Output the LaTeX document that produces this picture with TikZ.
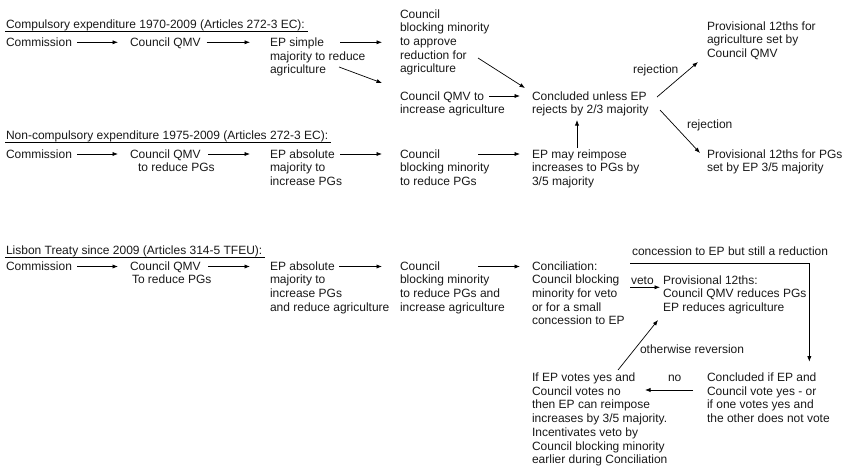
\documentclass[tikz,border=0pt]{standalone}
\usepackage{fontspec}
\setmainfont{Liberation Sans}
\usetikzlibrary{arrows.meta}
\newcommand\mlines[1]{\vtop{\halign{##\hfil\cr#1\crcr}}}
\begin{document}
\begin{tikzpicture}[x=1pt,y=-1pt,
  txt/.style={anchor=base west,inner sep=0pt,outer sep=0pt,
              font=\fontsize{12}{13.7}\selectfont,text=black!90},
  arr/.style={-{Latex[length=5.5pt,width=4.2pt]},line width=0.7pt},
  uline/.style={line width=0.6pt}]
\useasboundingbox (0,0) rectangle (846,474);

% ---------------- Row 1 ----------------
\node[txt] (h1) at (6,28) {Compulsory expenditure 1970-2009 (Articles 272-3 EC):};
\draw[uline] ([shift={(-1,3.5)}]h1.base west) -- ([shift={(3,3.5)}]h1.base east);
\node[txt] (c1a) at (6,46.5) {Commission};
\node[txt] (c1b) at (130,46.5) {Council QMV};
\node[txt] (c1c) at (270,46.5) {\mlines{EP simple\cr majority to reduce\cr agriculture}};
\node[txt] (c1d) at (400,18) {\mlines{Council\cr blocking minority\cr to approve\cr reduction for\cr agriculture}};
\node[txt] (c1e) at (400,100) {\mlines{Council QMV to\cr increase agriculture}};
\node[txt] (c1f) at (532,100) {\mlines{Concluded unless EP\cr rejects by 2/3 majority}};
\node[txt] (c1g) at (707,30) {\mlines{Provisional 12ths for\cr agriculture set by\cr Council QMV}};
\node[txt] (r1) at (633,73) {rejection};

\draw[arr] ([shift={(5,-4.2)}]c1a.base east) -- ([shift={(-12,-4.2)}]c1b.base west);
\draw[arr] ([shift={(6,-4.2)}]c1b.base east) -- ([shift={(-20,-4.2)}]c1c.base west);
\draw[arr] ([shift={(70,-4.2)}]c1c.base west) -- ([shift={(-18,24.3)}]c1d.base west);
\draw[arr] ([shift={(69,20.5)}]c1c.base west) -- ([shift={(-18,-17)}]c1e.base west);
\draw[arr] ([shift={(78,40)}]c1d.base west) -- ([shift={(-7,-12)}]c1f.base west);
\draw[arr] ([shift={(89,-4)}]c1e.base west) -- ([shift={(-12,-4)}]c1f.base west);
\draw[arr] ([shift={(125,-3)}]c1f.base west) -- ([shift={(-9,32)}]c1g.base west);

% ---------------- Row 2 ----------------
\node[txt] (h2) at (6,139) {Non-compulsory expenditure 1975-2009 (Articles 272-3 EC):};
\draw[uline] ([shift={(-1,3.5)}]h2.base west) -- ([shift={(3,3.5)}]h2.base east);
\node[txt] (c2a) at (6,158) {Commission};
\node[txt] (c2b) at (130,158) {\mlines{Council QMV\cr \hspace*{8pt}to reduce PGs}};
\node[txt] (c2c) at (270,158) {\mlines{EP absolute\cr majority to\cr increase PGs}};
\node[txt] (c2d) at (400,158) {\mlines{Council\cr blocking minority\cr to reduce PGs}};
\node[txt] (c2e) at (532,158) {\mlines{EP may reimpose\cr increases to PGs by\cr 3/5 majority}};
\node[txt] (c2g) at (707,158) {\mlines{Provisional 12ths for PGs\cr set by EP 3/5 majority}};
\node[txt] (r2) at (687,128) {rejection};

\draw[arr] ([shift={(5,-4)}]c2a.base east) -- ([shift={(-12,-4)}]c2b.base west);
\draw[arr] ([shift={(78,-4)}]c2b.base west) -- ([shift={(-20,-4)}]c2c.base west);
\draw[arr] ([shift={(70,-4)}]c2c.base west) -- ([shift={(-18,-4)}]c2d.base west);
\draw[arr] ([shift={(78,-4)}]c2d.base west) -- ([shift={(-12,-4)}]c2e.base west);
\draw[arr] ([shift={(45,-10)}]c2e.base west) -- ([shift={(45,20)}]c1f.base west);
\draw[arr] ([shift={(128,10)}]c1f.base west) -- ([shift={(-7,-5)}]c2g.base west);

% ---------------- Row 3 ----------------
\node[txt] (h3) at (6,254) {Lisbon Treaty since 2009 (Articles 314-5 TFEU):};
\draw[uline] ([shift={(-1,3)}]h3.base west) -- ([shift={(3,3)}]h3.base east);
\node[txt] (c3a) at (6,270) {Commission};
\node[txt] (c3b) at (130,270) {\mlines{Council QMV\cr \hspace*{2pt}To reduce PGs}};
\node[txt] (c3c) at (270,270) {\mlines{EP absolute\cr majority to\cr increase PGs\cr and reduce agriculture}};
\node[txt] (c3d) at (400,270) {\mlines{Council\cr blocking minority\cr to reduce PGs and\cr increase agriculture}};
\node[txt] (c3e) at (532,270) {\mlines{Conciliation:\cr Council blocking\cr minority for veto\cr or for a small\cr concession to EP}};
\node[txt] (c3f) at (663,284) {\mlines{Provisional 12ths:\cr Council QMV reduces PGs\cr EP reduces agriculture}};
\node[txt] (veto) at (631,284) {veto};
\node[txt] (conc) at (632,255.7) {concession to EP but still a reduction};
\node[txt] (c3g) at (707,381.5) {\mlines{Concluded if EP and\cr Council vote yes - or\cr if one votes yes and\cr the other does not vote}};
\node[txt] (c3h) at (532,381.5) {\mlines{If EP votes yes and\cr Council votes no\cr then EP can reimpose\cr increases by 3/5 majority.\cr Incentivates veto by\cr Council blocking minority\cr earlier during Conciliation}};
\node[txt] (no) at (668,381.5) {no};
\node[txt] (oth) at (640,353) {otherwise reversion};

\draw[arr] ([shift={(5,-3.5)}]c3a.base east) -- ([shift={(-12,-3.5)}]c3b.base west);
\draw[arr] ([shift={(78,-3.5)}]c3b.base west) -- ([shift={(-20,-3.5)}]c3c.base west);
\draw[arr] ([shift={(69,-3.5)}]c3c.base west) -- ([shift={(-18,-3.5)}]c3d.base west);
\draw[arr] ([shift={(78,-3.5)}]c3d.base west) -- ([shift={(-12,-3.5)}]c3e.base west);
\draw[arr] ([shift={(98,17.3)}]c3e.base west) -- ([shift={(-3,3.3)}]c3f.base west);
\draw[arr] ([shift={(98,-6.7)}]c3e.base west) -| ([shift={(102.3,-19.8)}]c3g.base west);
\draw[arr] ([shift={(-14,8.5)}]c3g.base west) -- ([shift={(113,8.5)}]c3h.base west);
\draw[arr] ([shift={(86,-11.5)}]c3h.base west) -- ([shift={(-5,36)}]c3f.base west);
\end{tikzpicture}
\end{document}
